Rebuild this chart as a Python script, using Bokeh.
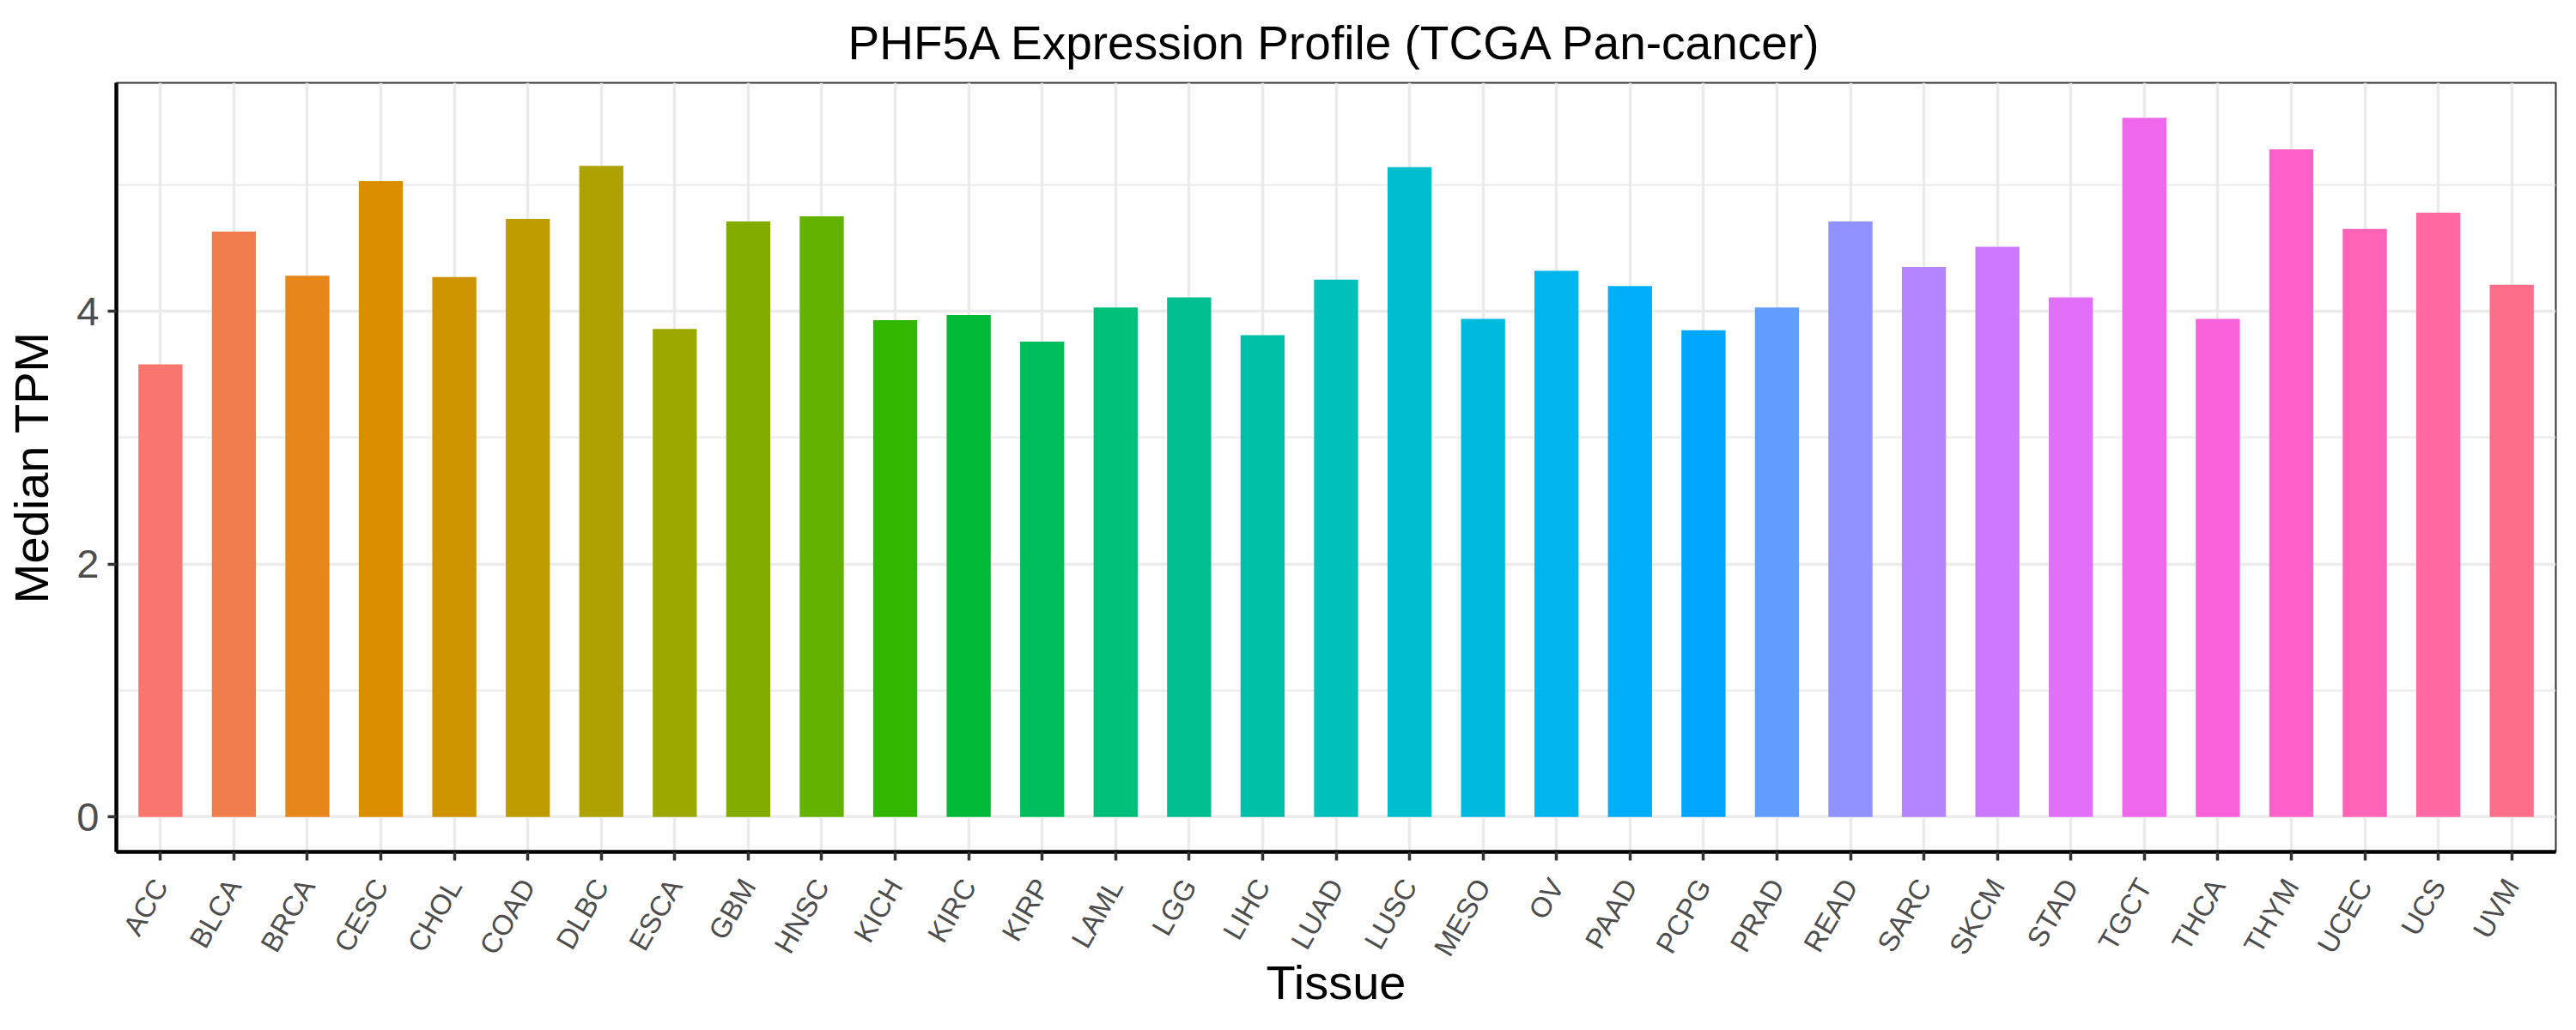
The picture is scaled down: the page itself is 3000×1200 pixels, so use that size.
import math
from bokeh.plotting import figure
from bokeh.models import ColumnDataSource, FactorRange, Range1d, FixedTicker
from bokeh.embed import file_html
from bokeh.resources import INLINE

tissues = ["ACC", "BLCA", "BRCA", "CESC", "CHOL", "COAD", "DLBC", "ESCA", "GBM", "HNSC",
           "KICH", "KIRC", "KIRP", "LAML", "LGG", "LIHC", "LUAD", "LUSC", "MESO", "OV",
           "PAAD", "PCPG", "PRAD", "READ", "SARC", "SKCM", "STAD", "TGCT", "THCA", "THYM",
           "UCEC", "UCS", "UVM"]
median_tpm = [3.58, 4.63, 4.28, 5.03, 4.27, 4.73, 5.15, 3.86, 4.71, 4.75,
              3.93, 3.97, 3.76, 4.03, 4.11, 3.81, 4.25, 5.14, 3.94, 4.32,
              4.20, 3.85, 4.03, 4.71, 4.35, 4.51, 4.11, 5.53, 3.94, 5.28,
              4.65, 4.78, 4.21]
y_ticks = [0, 2, 4]
y_minor = [1, 3, 5]

title_text = "PHF5A Expression Profile (TCGA Pan-cancer)"
x_title = "Tissue"
y_title = "Median TPM"


def hcl_hex(h, c=100.0, l=65.0):
    # ggplot2 default hue palette colour (CIE-LUV polar -> sRGB), like grDevices::hcl
    WX, WY, WZ = 95.047, 100.0, 108.883
    t = WX + 15 * WY + 3 * WZ
    wu, wv = 4 * WX / t, 9 * WY / t
    hr = math.radians(h)
    U, V = c * math.cos(hr), c * math.sin(hr)
    Y = WY * (((l + 16) / 116) ** 3 if l > 7.999592 else l / 903.3)
    u = U / (13 * l) + wu
    v = V / (13 * l) + wv
    X = 9.0 * Y * u / (4 * v)
    Z = -X / 3 - 5 * Y + 3 * Y / v

    def g(x):
        x = x / WY
        x = 1.055 * x ** (1 / 2.4) - 0.055 if x > 0.00304 else 12.92 * x
        return int(255 * min(1.0, max(0.0, x)) + 0.5)

    r = g(3.240479 * X - 1.537150 * Y - 0.498535 * Z)
    gg = g(-0.969256 * X + 1.875992 * Y + 0.041556 * Z)
    b = g(0.055648 * X - 0.204043 * Y + 1.057311 * Z)
    return "#%02X%02X%02X" % (r, gg, b)


n = len(tissues)
colors = [hcl_hex(15 + 360.0 * i / n) for i in range(n)]

src = ColumnDataSource(dict(tissue=tissues, tpm=median_tpm, color=colors))

ymax = max(median_tpm)
pad = 0.05 * ymax

p = figure(
    width=2984, height=1184,
    x_range=FactorRange(factors=tissues, range_padding=0.1, range_padding_units="absolute"),
    y_range=Range1d(-pad, ymax + pad),
    output_backend="svg", toolbar_location=None,
    min_border_left=135, min_border_right=8, min_border_top=96, min_border_bottom=192,
    background_fill_color="white", border_fill_color="white",
)

p.vbar(x="tissue", top="tpm", bottom=0, width=0.6, fill_color="color", line_color=None, source=src)

# Title
p.title.text = title_text
p.title.align = "center"
p.title.vertical_align = "top"
p.title.text_font = "Liberation Sans"
p.title.text_font_size = "55px"
p.title.text_font_style = "normal"
p.title.text_color = "black"
p.title.standoff = 28

# Outline (panel border)
p.outline_line_color = "#333333"
p.outline_line_width = 2

# Grids
p.xgrid.grid_line_color = "#EBEBEB"
p.xgrid.grid_line_width = 3.5
p.ygrid.ticker = FixedTicker(ticks=y_ticks, minor_ticks=y_minor)
p.ygrid.grid_line_color = "#EBEBEB"
p.ygrid.grid_line_width = 3.5
p.ygrid.minor_grid_line_color = "#EBEBEB"
p.ygrid.minor_grid_line_width = 1.8

# Y axis
p.yaxis.ticker = FixedTicker(ticks=y_ticks, minor_ticks=y_minor)
p.yaxis.axis_label = y_title
p.yaxis.axis_label_text_font = "Liberation Sans"
p.yaxis.axis_label_text_font_size = "56px"
p.yaxis.axis_label_text_font_style = "normal"
p.yaxis.axis_label_text_color = "black"
p.yaxis.axis_label_standoff = 18
p.yaxis.major_label_text_font = "Liberation Sans"
p.yaxis.major_label_text_font_size = "47px"
p.yaxis.major_label_text_color = "#4D4D4D"
p.yaxis.major_label_standoff = 10

# X axis
p.xaxis.axis_label = x_title
p.xaxis.axis_label_text_font = "Liberation Sans"
p.xaxis.axis_label_text_font_size = "56px"
p.xaxis.axis_label_text_font_style = "normal"
p.xaxis.axis_label_text_color = "black"
p.xaxis.axis_label_standoff = -19
p.xaxis.major_label_text_font = "Liberation Sans"
p.xaxis.major_label_text_font_size = "33px"
p.xaxis.major_label_text_color = "#4D4D4D"
p.xaxis.major_label_orientation = math.pi / 3
p.xaxis.major_label_standoff = 24

for ax in (p.xaxis, p.yaxis):
    ax.axis_line_color = "black"
    ax.axis_line_width = 4.5
    ax.major_tick_line_color = "#333333"
    ax.major_tick_line_width = 3.5
    ax.major_tick_out = 10
    ax.major_tick_in = 0
    ax.minor_tick_line_color = None

open("out.html", "w").write(file_html(p, INLINE))
